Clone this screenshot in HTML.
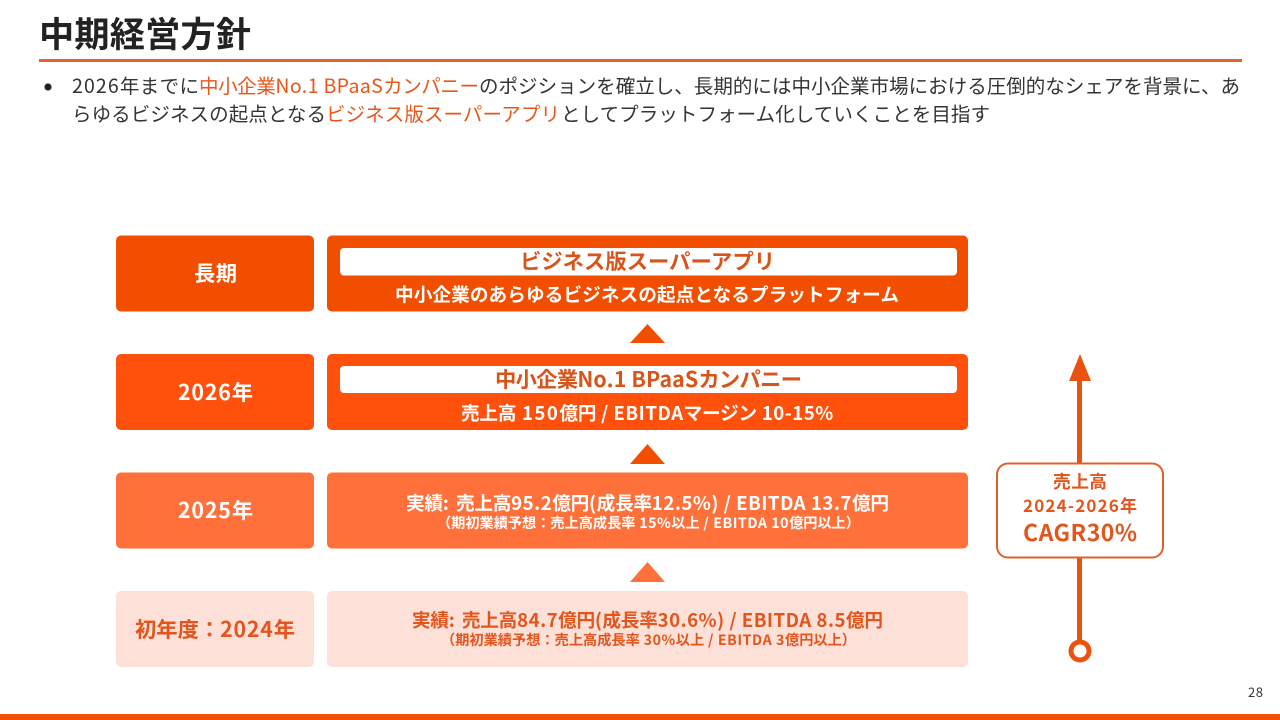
<!DOCTYPE html>
<html lang="ja"><head><meta charset="utf-8"><style>
html,body{margin:0;padding:0;background:#fff;width:1280px;height:720px;overflow:hidden}
svg{display:block}
text{font-family:"Noto Sans CJK JP","Liberation Sans",sans-serif}
.b{font-weight:700}
.l{letter-spacing:.04em}
.w{letter-spacing:.09em}
</style></head><body>
<svg width="1280" height="720" viewBox="0 0 1280 720" xmlns="http://www.w3.org/2000/svg">
<rect width="1280" height="720" fill="#fff"/>
<text class="b" x="39" y="47" font-size="35.200" fill="#222" textLength="212">中期経営方針</text>
<rect x="39" y="59" width="1203" height="3" fill="#e2622b"/>
<circle cx="48" cy="87" r="3.600" fill="#222"/>
<text x="72" y="93" font-size="19.500" fill="#333" textLength="127"><tspan class="l">2026</tspan>年までに</text>
<text x="199" y="93" font-size="19.500" fill="#e8561a" textLength="280">中小企業<tspan class="l">No.1 BPaaS</tspan>カンパニー</text>
<text x="479" y="93" font-size="19.500" fill="#333" textLength="761">のポジションを確立し、長期的には中小企業市場における圧倒的なシェアを背景に、あ</text>
<text x="72" y="121" font-size="19.500" fill="#333" textLength="254">らゆるビジネスの起点となる</text>
<text x="326" y="121" font-size="19.500" fill="#e8561a" textLength="234">ビジネス版スーパーアプリ</text>
<text x="561" y="121" font-size="19.500" fill="#333" textLength="429">としてプラットフォーム化していくことを目指す</text>

<rect x="116" y="235.500" width="198" height="76" rx="5" fill="#f24e00"/>
<rect x="327" y="235.500" width="641" height="76" rx="5" fill="#f24e00"/>
<rect x="340" y="248" width="617" height="27.500" rx="4" fill="#fff"/>
<text class="b" x="194" y="281" font-size="21.300" fill="#fff" textLength="43">長期</text>
<text class="b" x="520" y="269" font-size="21.300" fill="#d9541a" textLength="255">ビジネス版スーパーアプリ</text>
<text class="b" x="395" y="301.500" font-size="18.670" fill="#fff" textLength="504">中小企業のあらゆるビジネスの起点となるプラットフォーム</text>

<polygon points="630,343 665,343 647.500,324" fill="#f24e00"/>

<rect x="116" y="354" width="198" height="76" rx="5" fill="#ff510b"/>
<rect x="327" y="354" width="641" height="76" rx="5" fill="#ff510b"/>
<rect x="340" y="366" width="617" height="27" rx="4" fill="#fff"/>
<text class="b" x="178" y="400" font-size="21.300" fill="#fff" textLength="75"><tspan class="l">2026</tspan>年</text>
<text class="b" x="495" y="387" font-size="21.300" fill="#d9541a" textLength="307">中小企業<tspan class="l">No.1 BPaaS</tspan>カンパニー</text>
<text class="b" x="461" y="420" font-size="18.670" fill="#fff" textLength="373">売上高<tspan class="w"> 150</tspan>億円<tspan class="l"> / EBITDA</tspan>マージン<tspan class="l"> 10-15%</tspan></text>

<polygon points="630,464 665,464 647.500,444" fill="#f24e00"/>

<rect x="116" y="472.500" width="198" height="76" rx="5" fill="#ff703a"/>
<rect x="327" y="472.500" width="641" height="76" rx="5" fill="#ff703a"/>
<text class="b" x="178" y="518" font-size="21.300" fill="#fff" textLength="75"><tspan class="l">2025</tspan>年</text>
<text class="b" x="406" y="510" font-size="18.670" fill="#fff" textLength="483">実績<tspan class="w">: </tspan>売上高<tspan class="l">95.2</tspan>億円<tspan class="l">(</tspan>成長率<tspan class="l">12.5%) / EBITDA 13.7</tspan>億円</text>
<text class="b" x="437" y="528" font-size="14.200" fill="#fff" textLength="423">（期初業績予想：売上高成長率<tspan class="l"> 15%</tspan>以上<tspan class="l"> / EBITDA 10</tspan>億円以上）</text>

<polygon points="630,582 665,582 647.500,562" fill="#ff703a"/>

<rect x="116" y="591" width="198" height="76" rx="5" fill="#fde1d8"/>
<rect x="327" y="591" width="641" height="76" rx="5" fill="#fde1d8"/>
<text class="b" x="135" y="637" font-size="21.300" fill="#e2551c" textLength="160">初年度：<tspan class="l">2024</tspan>年</text>
<text class="b" x="412" y="627" font-size="18.670" fill="#e2551c" textLength="471">実績<tspan class="w">: </tspan>売上高<tspan class="l">84.7</tspan>億円<tspan class="l">(</tspan>成長率<tspan class="l">30.6%) / EBITDA 8.5</tspan>億円</text>
<text class="b" x="441" y="645" font-size="14.200" fill="#e2551c" textLength="415">（期初業績予想：売上高成長率<tspan class="l"> 30%</tspan>以上<tspan class="l"> / EBITDA 3</tspan>億円以上）</text>

<rect x="1077" y="380" width="5" height="84" fill="#e9530f"/>
<rect x="1077" y="557" width="5" height="84" fill="#e9530f"/>
<polygon points="1069,381 1091,381 1080,354" fill="#e9530f"/>
<circle cx="1080" cy="651" r="9" fill="#fff" stroke="#e9530f" stroke-width="5"/>
<rect x="997" y="463.500" width="166" height="94" rx="11" fill="#fff" stroke="#e0602a" stroke-width="2"/>
<text class="b" x="1053" y="488" font-size="17.800" fill="#e2551c" textLength="54">売上高</text>
<text class="b" x="1023" y="512" font-size="17" fill="#e2551c" textLength="114"><tspan class="l">2024-2026</tspan>年</text>
<text class="b" x="1023" y="541" font-size="23" fill="#e2551c" textLength="114">CAGR30%</text>

<text x="1248" y="697" font-size="13" fill="#333" textLength="15">28</text>
<rect x="0" y="714" width="1280" height="6" fill="#f24e00"/>
</svg>
</body></html>
